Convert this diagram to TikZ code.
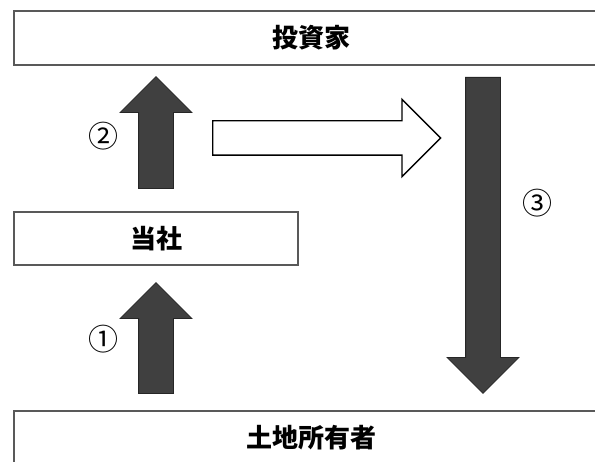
\documentclass[tikz,border=0pt]{standalone}
\usepackage{fontspec}
\newfontfamily\jpfont{Noto Sans CJK JP}
\usetikzlibrary{positioning,shapes.arrows}
\tikzset{mybox/.style={draw=black!65,line width=1.3pt,minimum height=54pt,inner sep=0pt,font=\jpfont\bfseries\fontsize{26}{30}\selectfont},
  darkarrow/.style={single arrow,draw=black!85,fill=black!75,line width=0.8pt,inner xsep=0pt,inner ysep=17pt,single arrow head extend=18.5pt,anchor=tail},
  openarrow/.style={single arrow,draw=black,fill=white,line width=1.4pt,inner xsep=0pt,inner ysep=16.5pt,single arrow head extend=21.5pt,anchor=tail},
  numlabel/.style={font=\jpfont\fontsize{30}{34}\selectfont,inner sep=0pt} }

\begin{document}
\begin{tikzpicture}[x=1pt,y=1pt]
    \useasboundingbox (0,0) rectangle (595,462);
    \clip (0,0) rectangle (595,462);
    \node[mybox,minimum width=594pt] (inv) at (311,424) {投資家};
    \node[mybox,minimum width=284pt,minimum height=53pt] (co) at (156,223.5) {当社};
    \node[mybox,minimum width=594pt] (land) at (311,24) {土地所有者};
    \node[darkarrow,rotate=90,minimum height=111pt] (a1) at (156,68) {};
    \node[darkarrow,rotate=90,minimum height=112pt] (a2) at (156,273) {};
    \node[openarrow,minimum height=228pt] (a4) at (212,324) {};
    \node[darkarrow,rotate=-90,minimum height=316pt] (a3) at (483,385) {};
    \node[numlabel] (n1) at (103,123) {①};
    \node[numlabel] (n2) at (103,326) {②};
    \node[numlabel] (n3) at (537,259) {③};
\end{tikzpicture}
\end{document}
